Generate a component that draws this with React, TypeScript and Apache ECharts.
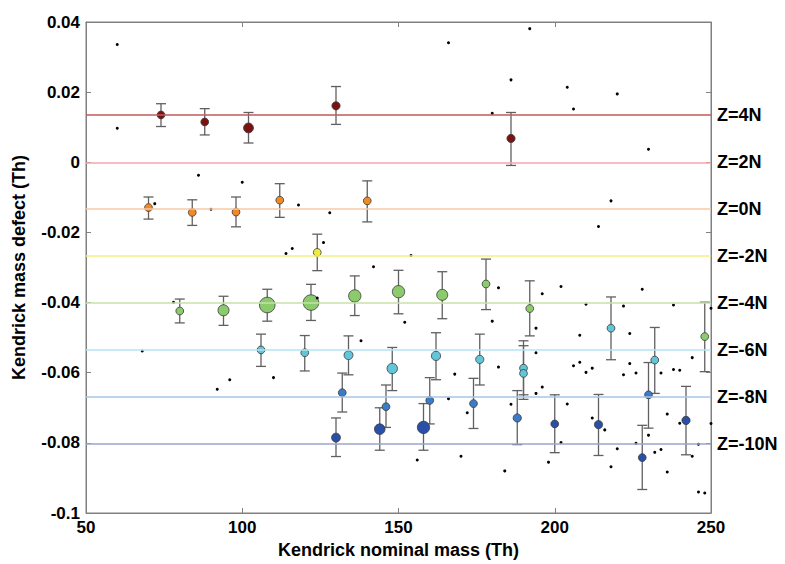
import React, { useEffect, useRef } from "react";
import * as echarts from "echarts";

// [nominal mass, mass defect, lower error, upper error, relative intensity]
const z4N = [
  [74, 0.0135, 0.0102, 0.0167, 1],
  [88, 0.0115, 0.0078, 0.0153, 1],
  [102, 0.0098, 0.0055, 0.0142, 1.6],
  [130, 0.0161, 0.0108, 0.0216, 1.1],
  [186, 0.0068, -0.0009, 0.0142, 1.1],
];
const z0N = [
  [70, -0.0129, -0.0162, -0.0099, 1],
  [84, -0.0143, -0.018, -0.0107, 1],
  [98, -0.0142, -0.0184, -0.0099, 1],
  [112, -0.0108, -0.0157, -0.0061, 1],
  [140, -0.011, -0.017, -0.0053, 1],
];
const zm2N = [[124, -0.0257, -0.0309, -0.0205, 1]];
const zm4N = [
  [80, -0.0424, -0.0458, -0.039, 1],
  [94, -0.0422, -0.0465, -0.0382, 2],
  [108, -0.0407, -0.0453, -0.0362, 4],
  [122, -0.04, -0.0451, -0.0348, 4],
  [136, -0.0381, -0.0437, -0.0324, 2.5],
  [150, -0.0369, -0.0432, -0.0308, 2.5],
  [164, -0.0378, -0.0446, -0.0312, 2],
  [178, -0.0347, -0.042, -0.0276, 1],
  [192, -0.0417, -0.0495, -0.0338, 1],
  [248, -0.0497, -0.0597, -0.0399, 1],
];
const zm6N = [
  [106, -0.0535, -0.0582, -0.049, 1],
  [120, -0.0543, -0.0595, -0.0494, 1],
  [134, -0.055, -0.0606, -0.0495, 1.3],
  [148, -0.0588, -0.0651, -0.0528, 1.8],
  [162, -0.0552, -0.062, -0.0486, 1.4],
  [176, -0.0562, -0.0635, -0.049, 1.1],
  [190, -0.0587, -0.0663, -0.0509, 1],
  [190, -0.0602, -0.0676, -0.0523, 1],
  [218, -0.0473, -0.0563, -0.0384, 1],
  [232, -0.0564, -0.0659, -0.0471, 1],
];
const zm8N = [
  [132, -0.0657, -0.0712, -0.0601, 1],
  [146, -0.0697, -0.0756, -0.0635, 1],
  [160, -0.0679, -0.0746, -0.0614, 1],
  [174, -0.0688, -0.0759, -0.0616, 1],
  [188, -0.0729, -0.0805, -0.0651, 1.1],
  [230, -0.0663, -0.0758, -0.0571, 1],
];
const zm10N = [
  [130, -0.0785, -0.0839, -0.0729, 1.3],
  [144, -0.0761, -0.0821, -0.07, 1.85],
  [158, -0.0756, -0.0821, -0.0688, 2.5],
  [200, -0.0746, -0.0828, -0.0663, 1],
  [214, -0.0748, -0.0836, -0.0662, 1.1],
  [228, -0.0842, -0.0933, -0.075, 1],
  [242, -0.0736, -0.0834, -0.0639, 1.1],
];

// unassigned peaks [nominal mass, mass defect]
const otherPeaks = [
  [60, 0.0336], [60, 0.0097], [86, -0.0037], [100, -0.0057], [72, -0.0118], [90, -0.0134],
  [118, -0.0122], [128, -0.0144], [114, -0.026], [116, -0.0246], [126, -0.0229],
  [166, 0.0341], [192, 0.0381], [186, 0.0235], [204, 0.0214], [220, 0.0195], [180, 0.014],
  [206, 0.0152], [230, 0.0037], [218, -0.011], [214, -0.0183], [154, -0.0266],
  [142, -0.0298], [78, -0.0399], [124, -0.0387], [138, -0.0509], [68, -0.0538], [92, -0.0647],
  [96, -0.062], [110, -0.0614], [152, -0.0456], [182, -0.0358], [180, -0.0453], [196, -0.0375],
  [202, -0.0354], [194, -0.0473], [194, -0.0543], [210, -0.0405], [222, -0.041], [228, -0.0362],
  [238, -0.0407], [250, -0.0416], [208, -0.0493], [224, -0.0488], [182, -0.0584], [168, -0.0604],
  [206, -0.058], [208, -0.057], [210, -0.0599], [212, -0.0587], [224, -0.0574], [222, -0.0606],
  [226, -0.0601], [234, -0.0601], [238, -0.0591], [240, -0.0593], [244, -0.0557], [194, -0.0659],
  [196, -0.0641], [166, -0.0674], [172, -0.0714], [186, -0.069], [204, -0.0689], [212, -0.0729],
  [216, -0.0763], [236, -0.0718], [240, -0.0744], [250, -0.0745], [230, -0.0778], [226, -0.0801],
  [202, -0.0799], [246, -0.0804], [232, -0.0827], [234, -0.0819], [220, -0.0817], [244, -0.0838],
  [156, -0.0849], [170, -0.0838], [184, -0.088], [198, -0.0855], [218, -0.0868], [236, -0.0883],
  [246, -0.094], [248, -0.0943],
];

const zLabels = ["Z=4N", "Z=2N", "Z=0N", "Z=-2N", "Z=-4N", "Z=-6N", "Z=-8N", "Z=-10N"];
const zLevels = [0.0136, 0, -0.0133, -0.0267, -0.0401, -0.0535, -0.0669, -0.0803];
const zLineColors = ["#c05a5a", "#f4a6ae", "#f8c9a4", "#f6f07e", "#c6e2a8", "#b2e6f0", "#a8c6e6", "#98a6cc"];

const groups = [z4N, z0N, zm2N, zm4N, zm6N, zm8N, zm10N];
const groupColors = ["#7a1212", "#f08a24", "#f2ea3a", "#8ccb6c", "#62c6d8", "#3a7cc8", "#2a4fa8"];

const FONT = "'Liberation Sans', Arial, sans-serif";

export default function App() {
  const ref = useRef<HTMLDivElement>(null);
  useEffect(() => {
    if (!ref.current) return;
    const chart = echarts.init(ref.current, null, { renderer: "svg" });
    const allBars: number[][] = [];
    groups.forEach((g) => g.forEach((p) => allBars.push([p[0], p[2], p[3]])));

    const tickLabel = { fontFamily: FONT, fontWeight: "bold" as const, fontSize: 17, color: "#000" };
    const axisLine = { show: true, onZero: false, lineStyle: { color: "#808080", width: 1 } };
    const axisTick = { show: true, inside: true, length: 5, lineStyle: { color: "#808080" } };
    const fmtY = (v: number) => {
      const r = Math.round(v * 100) / 100;
      return r === 0 ? "0" : String(r);
    };

    const series: any[] = [
      {
        type: "scatter",
        data: [],
        z: 1,
        silent: true,
        markLine: {
          silent: true,
          symbol: "none",
          precision: 5,
          animation: false,
          data: zLevels.map((v, i) => ({
            yAxis: v,
            name: zLabels[i],
            lineStyle: { color: zLineColors[i], width: 1.5, type: "solid" },
          })),
          label: {
            show: true,
            position: "end",
            distance: 6,
            formatter: (p: any) => p.name,
            fontFamily: FONT,
            fontWeight: "bold",
            fontSize: 18,
            color: "#000",
          },
        },
      },
      {
        type: "custom",
        z: 2,
        silent: true,
        data: allBars,
        renderItem: (params: any, api: any) => {
          const x = api.value(0);
          const lo = api.coord([x, api.value(1)]);
          const hi = api.coord([x, api.value(2)]);
          const w = 5;
          const style = { stroke: "#606060", lineWidth: 1.3 };
          return {
            type: "group",
            children: [
              { type: "line", shape: { x1: lo[0], y1: lo[1], x2: hi[0], y2: hi[1] }, style },
              { type: "line", shape: { x1: lo[0] - w, y1: lo[1], x2: lo[0] + w, y2: lo[1] }, style },
              { type: "line", shape: { x1: hi[0] - w, y1: hi[1], x2: hi[0] + w, y2: hi[1] }, style },
            ],
          };
        },
      },
    ];
    groups.forEach((g, i) => {
      series.push({
        type: "scatter",
        z: 3,
        data: g.map((p) => [p[0], p[1], p[4]]),
        symbolSize: (val: number[]) => 7.8 * Math.sqrt(val[2]),
        itemStyle: { color: groupColors[i], borderColor: "#3a3a3a", borderWidth: 0.8, opacity: 1 },
      });
    });
    series.push({
      type: "scatter",
      z: 4,
      data: otherPeaks,
      symbolSize: 3,
      itemStyle: { color: "#000", opacity: 1 },
    });

    chart.setOption({
      animation: false,
      backgroundColor: "#fff",
      grid: {
        left: 86,
        right: 74,
        top: 22,
        bottom: 49,
        containLabel: false,
        show: true,
        borderColor: "#808080",
        borderWidth: 1,
        backgroundColor: "transparent",
      },
      xAxis: [
        {
          type: "value",
          min: 50,
          max: 250,
          interval: 50,
          position: "bottom",
          axisLine,
          axisTick,
          splitLine: { show: false },
          axisLabel: { ...tickLabel, margin: 6 },
          name: "Kendrick nominal mass (Th)",
          nameLocation: "middle",
          nameGap: 28,
          nameTextStyle: { fontFamily: FONT, fontWeight: "bold", fontSize: 18, color: "#000" },
        },
        {
          type: "value",
          min: 50,
          max: 250,
          interval: 50,
          position: "top",
          axisLine,
          axisTick,
          splitLine: { show: false },
          axisLabel: { show: false },
        },
      ],
      yAxis: [
        {
          type: "value",
          min: -0.1,
          max: 0.04,
          interval: 0.02,
          position: "left",
          axisLine,
          axisTick,
          splitLine: { show: false },
          axisLabel: { ...tickLabel, margin: 6, formatter: fmtY },
          name: "Kendrick mass defect (Th)",
          nameLocation: "middle",
          nameGap: 58,
          nameTextStyle: { fontFamily: FONT, fontWeight: "bold", fontSize: 18, color: "#000" },
        },
        {
          type: "value",
          min: -0.1,
          max: 0.04,
          interval: 0.02,
          position: "right",
          axisLine,
          axisTick,
          splitLine: { show: false },
          axisLabel: { show: false },
        },
      ],
      series,
    });
    return () => chart.dispose();
  }, []);
  return (
    <div
      ref={ref}
      style={{ position: "fixed", left: 0, top: 0, width: 785, height: 564, background: "#fff" }}
    />
  );
}
